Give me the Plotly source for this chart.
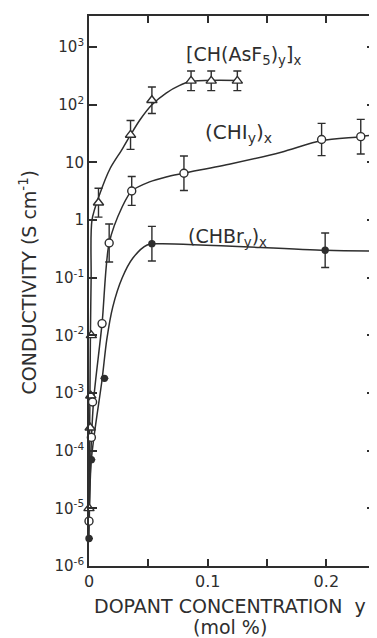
import plotly.graph_objects as go

# ---------------- data ----------------
# [CH(AsF5)y]x  (open triangles)
asf5_x = [0.0, 0.001, 0.0015, 0.002, 0.008, 0.035, 0.053, 0.086, 0.103, 0.125]
asf5_y = [1.0e-5, 2.5e-4, 9.0e-4, 1.0e-2, 2.0, 30, 120, 260, 260, 260]
asf5_err = [0, 0, 0, 0, 0.25, 0.25, 0.23, 0.17, 0.17, 0.17]   # error, in decades
# drawn curve
asf5_curve_x = [0.0, 0.0008, 0.0012, 0.0018, 0.0025, 0.009, 0.018, 0.028, 0.035, 0.043,
                0.053, 0.065, 0.076, 0.086, 0.126]
asf5_curve_y = [1.0e-5, 1.0e-3, 1.0e-2, 0.1, 1.0, 2.8, 8, 17, 30, 55,
                100, 160, 215, 255, 265]

# (CHIy)x  (open circles)
chi_x = [0.0, 0.002, 0.003, 0.011, 0.017, 0.036, 0.080, 0.196, 0.229]
chi_y = [6.0e-6, 1.7e-4, 7.0e-4, 1.6e-2, 0.4, 3.2, 6.5, 25, 28]
chi_err = [0, 0, 0, 0, 0.33, 0.25, 0.3, 0.28, 0.3]
chi_curve_x = [0.0, 0.002, 0.004, 0.011, 0.017, 0.028, 0.036, 0.051, 0.065, 0.080,
               0.12, 0.162, 0.196, 0.229, 0.245]
chi_curve_y = [6.0e-6, 1.5e-4, 8.0e-4, 1.6e-2, 0.4, 1.7, 3.2, 4.6, 5.6, 6.5,
               9.5, 15, 24, 28, 31]

# (CHBry)x  (filled circles)
chbr_x = [0.0, 0.002, 0.013, 0.053, 0.199]
chbr_y = [3.0e-6, 7.0e-5, 1.8e-3, 0.39, 0.30]
chbr_err = [0, 0, 0, 0.3, 0.3]
chbr_curve_x = [0.0, 0.002, 0.011, 0.015, 0.020, 0.028, 0.037, 0.049, 0.060, 0.199, 0.245]
chbr_curve_y = [3.0e-6, 7.0e-5, 1.7e-3, 8.5e-3, 0.031, 0.1, 0.22, 0.37, 0.39, 0.30, 0.29]

y_tickvals = [1e-6, 1e-5, 1e-4, 1e-3, 1e-2, 1e-1, 1, 10, 100, 1000]
y_ticktext = ["10<sup>-6</sup>", "10<sup>-5</sup>", "10<sup>-4</sup>", "10<sup>-3</sup>",
              "10<sup>-2</sup>", "10<sup>-1</sup>", "1", "10", "10<sup>2</sup>", "10<sup>3</sup>"]
x_tickvals = [0, 0.05, 0.1, 0.15, 0.2]
x_ticktext = ["0", "", "0.1", "", "0.2"]

# ---------------- style ----------------
INK = "#2e2e2e"
FONT = "DejaVu Sans"
# page places the figure 8 px in from the top-left corner
W, H = 369, 630
ML, MT, MR, MB = 81, 8, 0, 72
PW, PH = W - ML - MR, H - MT - MB


def px(X):   # page pixel -> paper x
    return (X - 8 - ML) / PW


def py(Y):   # page pixel -> paper y
    return (H - MB - (Y - 8)) / PH


def err_arrays(y, dec):
    plus = [v * (10 ** d - 1) for v, d in zip(y, dec)]
    minus = [v * (1 - 10 ** -d) for v, d in zip(y, dec)]
    return plus, minus


fig = go.Figure()

for cx, cy in [(asf5_curve_x, asf5_curve_y), (chi_curve_x, chi_curve_y),
               (chbr_curve_x, chbr_curve_y)]:
    fig.add_trace(go.Scatter(x=cx, y=cy, mode="lines",
                             line=dict(color=INK, width=1.5, shape="spline", smoothing=0.8),
                             cliponaxis=True, hoverinfo="skip", showlegend=False))

for sx, sy, se, sym, size, fill in [
    (asf5_x, asf5_y, asf5_err, "triangle-up", 9, "white"),
    (chi_x, chi_y, chi_err, "circle", 8, "white"),
    (chbr_x, chbr_y, chbr_err, "circle", 6, INK),
]:
    p, m = err_arrays(sy, se)
    fig.add_trace(go.Scatter(
        x=sx, y=sy, mode="markers",
        marker=dict(symbol=sym, size=size, color=fill, line=dict(color=INK, width=1.4)),
        error_y=dict(type="data", symmetric=False, array=p, arrayminus=m,
                     color=INK, thickness=1.4, width=4),
        cliponaxis=False, showlegend=False))

fig.update_layout(
    width=W, height=H,
    margin=dict(l=ML, r=MR, t=MT, b=MB),
    paper_bgcolor="white", plot_bgcolor="white",
    font=dict(family=FONT, color=INK),
    showlegend=False,
)

fig.update_xaxes(
    range=[0, 0.241], tickmode="array", tickvals=x_tickvals, ticktext=x_ticktext,
    ticks="inside", ticklen=7, tickwidth=1.5, tickcolor=INK,
    showline=True, linecolor=INK, linewidth=1.8, mirror="ticks",
    showgrid=False, zeroline=False, tickfont=dict(size=16, family=FONT, color=INK),
)
fig.update_yaxes(
    type="log", range=[-6, 3.54], tickmode="array", tickvals=y_tickvals, ticktext=y_ticktext,
    ticks="inside", ticklen=8, tickwidth=1.5, tickcolor=INK,
    showline=True, linecolor=INK, linewidth=1.8, mirror="ticks",
    showgrid=False, zeroline=False, tickfont=dict(size=15, family=FONT, color=INK),
)

ann = dict(showarrow=False, xref="paper", yref="paper", xanchor="center", yanchor="middle")
fig.add_annotation(text="[CH(AsF<sub>5</sub>)<sub>y</sub>]<sub>x</sub>",
                   x=px(245), y=py(55), font=dict(family=FONT, size=19, color=INK), **ann)
fig.add_annotation(text="(CHI<sub>y</sub>)<sub>x</sub>",
                   x=px(240), y=py(133), font=dict(family=FONT, size=20, color=INK), **ann)
fig.add_annotation(text="(CHBr<sub>y</sub>)<sub>x</sub>",
                   x=px(228), y=py(237), font=dict(family=FONT, size=19, color=INK), **ann)

fig.add_annotation(text="CONDUCTIVITY (S cm<sup>-1</sup>)", x=px(28), y=py(282), textangle=-90,
                   font=dict(family=FONT, size=19, color=INK), **ann)
fig.add_annotation(text="DOPANT CONCENTRATION  y", x=px(231), y=py(606),
                   font=dict(family=FONT, size=19, color=INK), **ann)
fig.add_annotation(text="(mol %)", x=px(231), y=py(627),
                   font=dict(family=FONT, size=19, color=INK), **ann)

fig.write_html("out.html")
